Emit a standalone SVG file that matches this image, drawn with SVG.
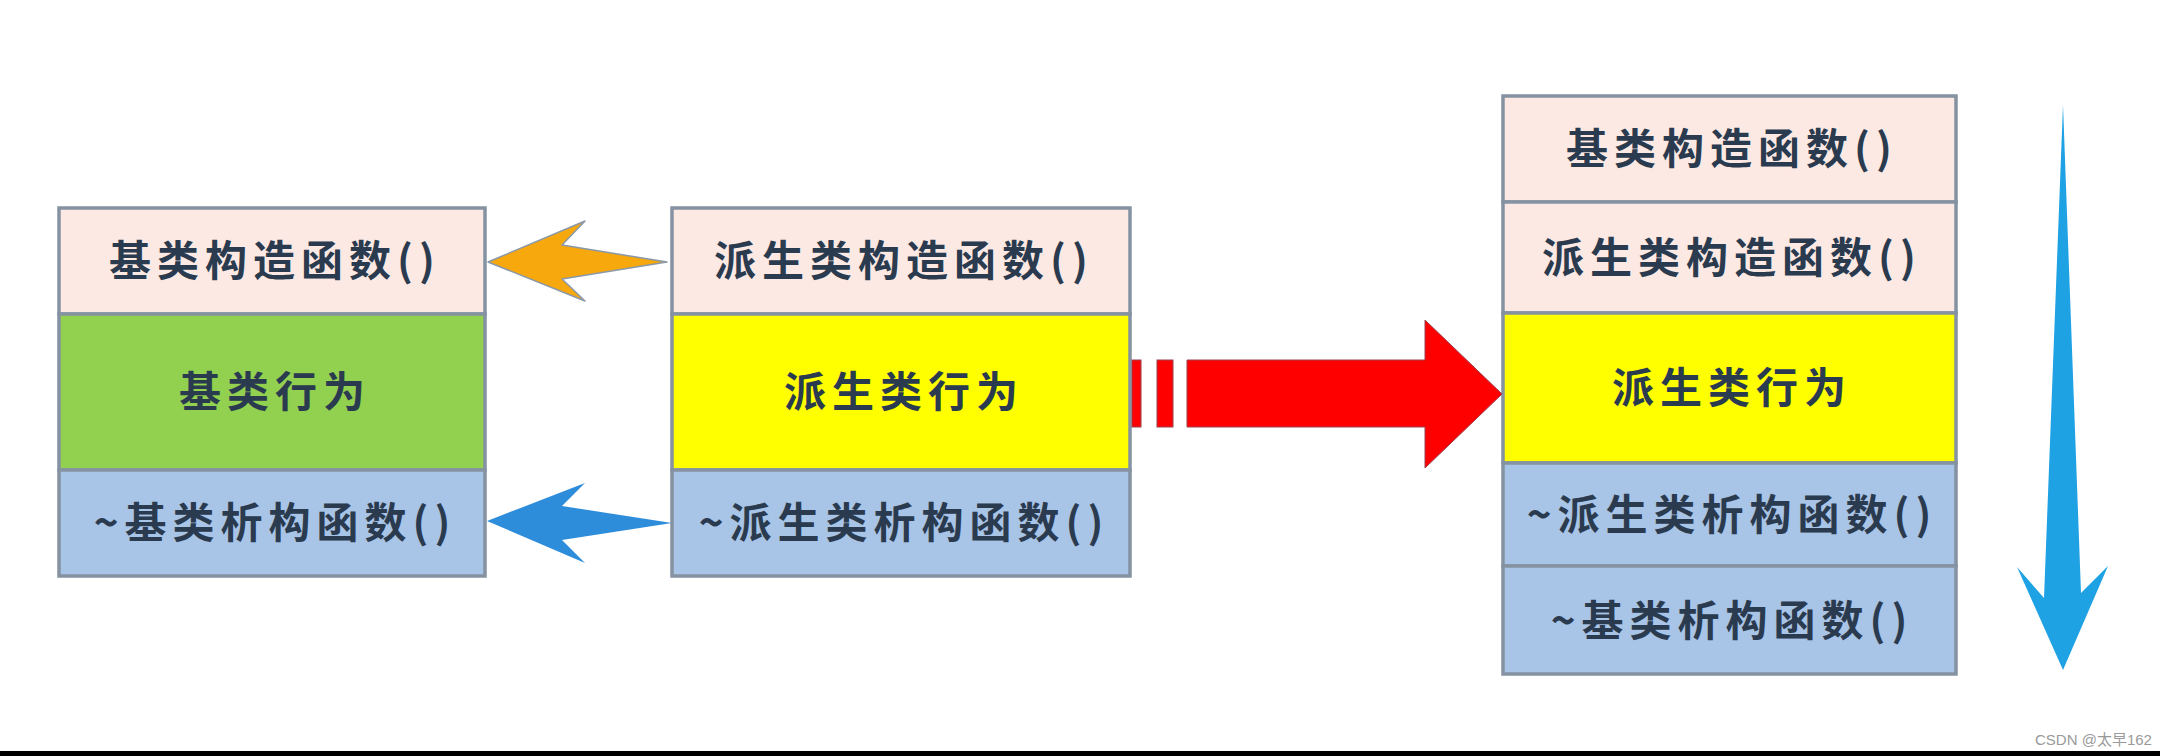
<svg xmlns="http://www.w3.org/2000/svg" width="2160" height="756" viewBox="0 0 2160 756">
<style>
.cell{stroke:#8592a1;stroke-width:3.5}
.pink{fill:#fce9e4}
.green{fill:#92d050}
.yellow{fill:#ffff00}
.blue{fill:#a8c4e7}
.t{font-family:"Noto Sans CJK SC","Noto Sans",sans-serif;font-size:42px;font-weight:700;fill:#2b3b4f;text-anchor:middle;letter-spacing:6px}
.wm{font-family:"Liberation Sans","Noto Sans CJK SC",sans-serif;font-size:15px;fill:#9a9a9a}
</style>
<rect width="2160" height="756" fill="#ffffff"/>
<g id="base">
<rect class="cell pink" x="59" y="208" width="426" height="106"/>
<rect class="cell green" x="59" y="314" width="426" height="156"/>
<rect class="cell blue" x="59" y="470" width="426" height="106"/>
<text class="t" x="275" y="276">基类构造函数()</text>
<text class="t" x="275" y="407">基类行为</text>
<text class="t" x="275" y="538">~基类析构函数()</text>
</g>
<g id="derived">
<rect class="cell pink" x="672" y="208" width="458" height="106"/>
<rect class="cell yellow" x="672" y="314" width="458" height="156"/>
<rect class="cell blue" x="672" y="470" width="458" height="106"/>
<text class="t" x="904" y="276">派生类构造函数()</text>
<text class="t" x="904" y="407">派生类行为</text>
<text class="t" x="904" y="538">~派生类析构函数()</text>
</g>
<g id="sequence">
<rect class="cell pink" x="1503" y="96" width="453" height="106"/>
<rect class="cell pink" x="1503" y="202" width="453" height="111"/>
<rect class="cell yellow" x="1503" y="313" width="453" height="150"/>
<rect class="cell blue" x="1503" y="463" width="453" height="103"/>
<rect class="cell blue" x="1503" y="566" width="453" height="108"/>
<text class="t" x="1732" y="164">基类构造函数()</text>
<text class="t" x="1732" y="273">派生类构造函数()</text>
<text class="t" x="1732" y="403">派生类行为</text>
<text class="t" x="1732" y="530">~派生类析构函数()</text>
<text class="t" x="1732" y="636">~基类析构函数()</text>
</g>
<g id="connectors">
<polygon points="488,262 585,221 562,245 667,262 562,279 585,301" fill="#f7a80c" stroke="#8a98a8" stroke-width="1.5" stroke-linejoin="round"/>
<polygon points="487,521 585,483 562,506 672,523 562,540 585,563" fill="#2e8ddb"/>
<rect x="1132" y="360" width="9" height="67" fill="#ff0000" stroke="#9a4050" stroke-width="1"/>
<rect x="1157" y="360" width="16" height="67" fill="#ff0000" stroke="#9a4050" stroke-width="1"/>
<polygon points="1187,360 1425,360 1425,320 1502,394 1425,468 1425,427 1187,427" fill="#ff0000" stroke="#9a4050" stroke-width="1"/>
<polygon points="2063,105 2081,593 2108,566 2063,670 2017,567 2044,598" fill="#1ea2e4"/>
</g>
<text class="wm" x="2035" y="745">CSDN @太早162</text>
<rect x="0" y="751" width="2160" height="5" fill="#000000"/>
</svg>
